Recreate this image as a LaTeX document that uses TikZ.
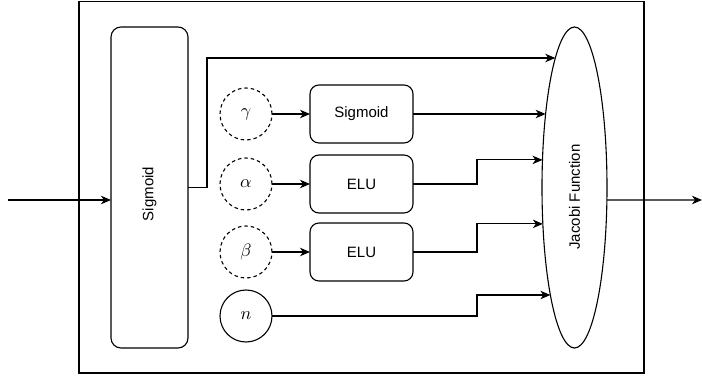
\documentclass[tikz,border=0pt]{standalone}
\usepackage{fontspec}
\setmainfont{Liberation Sans}
\usetikzlibrary{shapes.geometric,arrows.meta,calc}
\newcommand{\varlbl}[1]{\scalebox{1.8}{$#1$}}
\begin{document}
\begin{tikzpicture}[x=1pt,y=-1pt,line width=1.1pt,
  lbl/.style={font=\fontsize{15}{18}\selectfont},
  rbox/.style={draw,rounded corners=9pt,minimum width=103pt,minimum height=58pt,inner sep=0pt,outer sep=0pt,font=\fontsize{15}{18}\selectfont},
  tallbox/.style={draw,rounded corners=10pt,minimum width=77pt,minimum height=321pt,inner sep=0pt,outer sep=0pt},
  varc/.style={draw,circle,minimum size=52pt,inner sep=0pt,outer sep=0pt},
  dvar/.style={varc,dash pattern=on 3.5pt off 3pt},
  arr/.style={-{Stealth[length=10pt,width=8.5pt,inset=3pt]}}]
\useasboundingbox (0,0) rectangle (702,377);
\node[draw,rectangle,minimum width=565pt,minimum height=371.5pt,inner sep=0pt,outer sep=0pt] (frame) at (361.5,187.25) {};
\node[tallbox] (S) at (149.5,187.5) {};
\node[lbl,rotate=90] (St) at (149.5,194) {Sigmoid};
\node[dvar] (g) at (246,114) {\varlbl{\gamma}};
\node[dvar] (a) at (246,184) {\varlbl{\alpha}};
\node[dvar] (b) at (246,252) {\varlbl{\beta}};
\node[varc] (n) at (246,316) {\varlbl{n}};
\node[rbox] (sg) at (361.5,114) {Sigmoid};
\node[rbox] (e1) at (361.5,184) {ELU};
\node[rbox] (e2) at (361.5,252) {ELU};
\node[draw,ellipse,minimum width=65pt,minimum height=321pt,inner sep=0pt,outer sep=0pt] (J) at (574.5,187.5) {};
\node[lbl,rotate=90] (Jt) at (574.5,197) {Jacobi Function};
\coordinate (p1) at ($(J.center)+(126.2:32.5pt and 160.5pt)$);
\coordinate (p2) at ($(J.center)+(152.75:32.5pt and 160.5pt)$);
\coordinate (p3) at ($(J.center)+(170.1:32.5pt and 160.5pt)$);
\coordinate (p4) at ($(J.center)+(193.1:32.5pt and 160.5pt)$);
\coordinate (p5) at ($(J.center)+(222.05:32.5pt and 160.5pt)$);
\coordinate (p6) at ($(J.center)+(-4.47:32.5pt and 160.5pt)$);
\coordinate (in) at (8,200);
\coordinate (out) at (702,200);
\draw[arr] (in) -- (S.west |- in);
\draw[arr] (S.east) -- (207,187.5) |- (p1);
\draw[arr] (g) -- (sg);
\draw[arr] (a) -- (e1);
\draw[arr] (b) -- (e2);
\draw[arr] (sg.east) -- (sg.east -| p2);
\draw[arr] (e1.east) -- (477,184) |- (p3);
\draw[arr] (e2.east) -- (477,252) |- (p4);
\draw[arr] (n.east) -- (477,316) |- (p5);
\draw[arr] (p6) -- (out);
\end{tikzpicture}
\end{document}
